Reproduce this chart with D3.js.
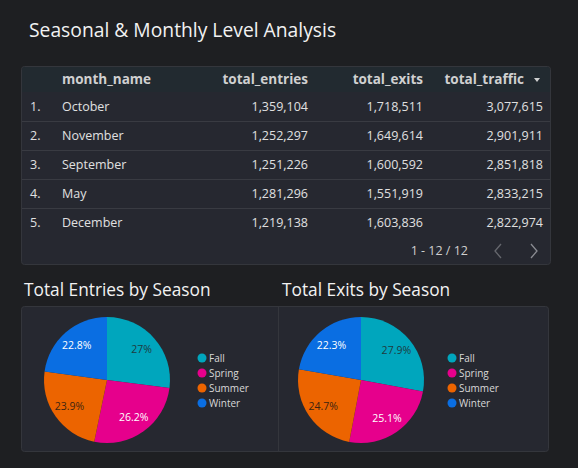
<!DOCTYPE html>
<html><head><meta charset="utf-8">
<script src="https://cdn.jsdelivr.net/npm/d3@7"></script>
<style>
html,body{margin:0;padding:0;background:#1e1f22;}
svg{display:block;font-family:"Open Sans",sans-serif;}
</style></head>
<body><svg id="c" width="578" height="468"></svg>
<script>
const columns = ["month_name","total_entries","total_exits","total_traffic"];
const months = ["October","November","September","May","December"];
const entries = [1359104,1252297,1251226,1281296,1219138];
const exits = [1718511,1649614,1600592,1551919,1603836];
const traffic = [3077615,2901911,2851818,2833215,2822974];
const seasons = ["Fall","Spring","Summer","Winter"];
const entriesShare = [27.0,26.2,23.9,22.8];
const exitsShare = [27.9,25.1,24.7,22.3];
const colors = ["#00a6bd","#e6008c","#ec6400","#0a6ee2"];
const labelColors = ["#1f3a40","#ffffff","#3d2410","#ffffff"];

const svg = d3.select("#c");
const fmt = d3.format(",");

svg.append("text").attr("x",29).attr("y",37).attr("fill","#f2f2f2")
  .attr("font-size",19.3).text("Seasonal & Monthly Level Analysis");

// table panel
const T = svg.append("g");
T.append("rect").attr("x",21.5).attr("y",66.5).attr("width",529).attr("height",198).attr("rx",3)
  .attr("fill","#262830").attr("stroke","#34363c");
T.append("path").attr("d","M22,70 a3,3 0 0 1 3,-3 H547 a3,3 0 0 1 3,3 V92 H22 Z").attr("fill","#222a30");

const rowY = d3.scaleBand().domain(d3.range(months.length)).range([92,237]);
const colX = {month_name:62,total_entries:308,total_exits:423,total_traffic:524};
const anchors = {month_name:"start",total_entries:"end",total_exits:"end",total_traffic:"end"};

columns.forEach(c=>{
  T.append("text").attr("x",colX[c]).attr("y",84).attr("text-anchor",anchors[c])
   .attr("fill","#d0d0d0").attr("font-weight","bold").attr("font-size",13.5).text(c);
});
T.append("path").attr("d","M534,78 l6,0 l-3,4 z").attr("fill","#d0d0d0");

const rows = months.map((m,i)=>({i,month_name:m,total_entries:entries[i],total_exits:exits[i],total_traffic:traffic[i]}));
const rg = T.selectAll("g.row").data(rows).join("g").attr("class","row")
  .attr("transform",d=>`translate(0,${rowY(d.i)})`);
rg.filter(d=>d.i<months.length-1).append("line").attr("x1",22).attr("x2",550)
  .attr("y1",rowY.bandwidth()+0.5).attr("y2",rowY.bandwidth()+0.5).attr("stroke","#393b42");
const ty = rowY.bandwidth()/2+4.5;
rg.append("text").attr("x",30).attr("y",ty).attr("fill","#e0e0e0").attr("font-size",12.5).text(d=>(d.i+1)+".");
rg.append("text").attr("x",62).attr("y",ty).attr("fill","#e0e0e0").attr("font-size",12.5).text(d=>d.month_name);
["total_entries","total_exits"].forEach(c=>{
  rg.append("text").attr("x",colX[c]).attr("y",ty).attr("text-anchor","end").attr("fill","#e0e0e0")
    .attr("font-size",12.5).text(d=>fmt(d[c]));
});
rg.append("text").attr("x",543).attr("y",ty).attr("text-anchor","end").attr("fill","#e0e0e0")
  .attr("font-size",12.5).text(d=>fmt(d.total_traffic));

T.append("text").attr("x",468).attr("y",255).attr("text-anchor","end").attr("fill","#cfcfcf")
  .attr("font-size",12.5).text("1 - 12 / 12");
T.append("path").attr("d","M501,244 l-6,7 l6,7").attr("fill","none").attr("stroke","#66686e").attr("stroke-width",1.3);
T.append("path").attr("d","M531,244 l6,7 l-6,7").attr("fill","none").attr("stroke","#8a8c92").attr("stroke-width",1.3);

// pie panels
svg.append("text").attr("x",24).attr("y",296).attr("fill","#f2f2f2").attr("font-size",17.3).text("Total Entries by Season");
svg.append("text").attr("x",282).attr("y",296).attr("fill","#f2f2f2").attr("font-size",17.3).text("Total Exits by Season");
svg.append("rect").attr("x",21.5).attr("y",306.5).attr("width",527).attr("height",145).attr("rx",3)
  .attr("fill","#262830").attr("stroke","#34363c");
svg.append("line").attr("x1",278.5).attr("x2",278.5).attr("y1",307).attr("y2",451).attr("stroke","#34363c");

function drawPie(vals, cx, cy, lx){
  const g = svg.append("g").attr("transform",`translate(${cx},${cy})`);
  const r = 63;
  const pie = d3.pie().sort(null).value(d=>d.v);
  const arcs = pie(vals.map((v,i)=>({v,i})));
  const arc = d3.arc().innerRadius(0).outerRadius(r);
  const la = d3.arc().innerRadius(r*0.73).outerRadius(r*0.73);
  g.selectAll("path").data(arcs).join("path").attr("d",arc).attr("fill",d=>colors[d.data.i]);
  g.selectAll("text").data(arcs).join("text").attr("transform",d=>`translate(${la.centroid(d)})`)
    .attr("text-anchor","middle").attr("dy","0.35em").attr("font-size",10.5)
    .attr("fill",d=>labelColors[d.data.i]).text(d=>(+d.data.v.toFixed(1))+"%");
  const lg = svg.append("g");
  seasons.forEach((s,i)=>{
    lg.append("circle").attr("cx",lx).attr("cy",358+i*15).attr("r",4.5).attr("fill",colors[i]);
    lg.append("text").attr("x",lx+7).attr("y",361.5+i*15).attr("fill","#d8d8d8").attr("font-size",10).text(s);
  });
}
drawPie(entriesShare,107,380,202);
drawPie(exitsShare,361,380,452);
</script></body></html>
